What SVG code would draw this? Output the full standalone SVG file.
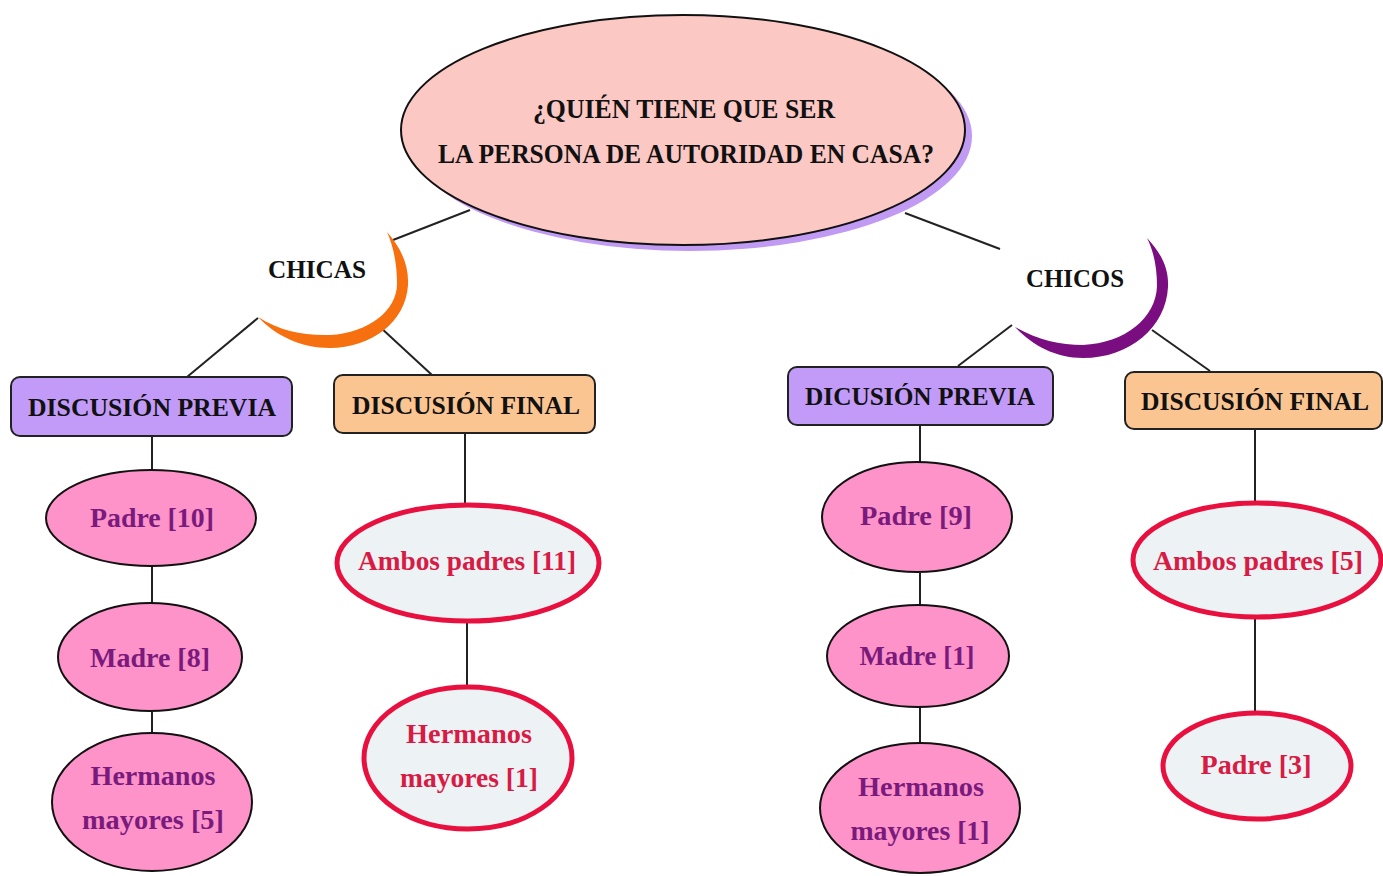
<svg xmlns="http://www.w3.org/2000/svg" width="1383" height="876" viewBox="0 0 1383 876">
<style>
text{font-family:"Liberation Serif","Times New Roman",serif;font-weight:bold;text-anchor:middle}
.t{fill:#111;font-size:27px}
.bx{fill:#111;font-size:25px}
.ch{fill:#111;font-size:25px}
.pk{fill:#fd93c9;stroke:#111;stroke-width:2}
.pt{fill:#7a1a7d;font-size:27px}
.rd{fill:#edf2f5;stroke:#e8103f;stroke-width:5}
.rt{fill:#d81b45;font-size:27px}
.pv{fill:#c29bf8;stroke:#222;stroke-width:2}
.pf{fill:#fbc592;stroke:#222;stroke-width:2}
.ln{stroke:#222;stroke-width:2;fill:none}
</style>
<rect width="1383" height="876" fill="#fff"/>
<g id="connectors">
<line class="ln" x1="393" y1="240" x2="470" y2="210"/>
<line class="ln" x1="905" y1="213" x2="1000" y2="249"/>
<line class="ln" x1="258" y1="318" x2="187" y2="377"/>
<line class="ln" x1="380" y1="327" x2="432" y2="375"/>
<line class="ln" x1="1012" y1="325" x2="958" y2="366"/>
<line class="ln" x1="1152" y1="330" x2="1210" y2="371"/>
<line class="ln" x1="152" y1="436" x2="152" y2="470"/>
<line class="ln" x1="152" y1="566" x2="152" y2="603"/>
<line class="ln" x1="152" y1="712" x2="152" y2="733"/>
<line class="ln" x1="465" y1="433" x2="465" y2="503"/>
<line class="ln" x1="467" y1="623" x2="467" y2="685"/>
<line class="ln" x1="920" y1="425" x2="920" y2="462"/>
<line class="ln" x1="920" y1="573" x2="920" y2="605"/>
<line class="ln" x1="920" y1="707" x2="920" y2="743"/>
<line class="ln" x1="1255" y1="430" x2="1255" y2="503"/>
<line class="ln" x1="1255" y1="618" x2="1255" y2="712"/>
</g>
<g id="root">
<ellipse cx="690" cy="136" rx="282" ry="115" fill="#c19af3"/>
<ellipse cx="683" cy="130" rx="282" ry="115" fill="#fcc8c4" stroke="#111" stroke-width="2"/>
<text class="t" x="684" y="118" textLength="302" lengthAdjust="spacingAndGlyphs">¿QUIÉN TIENE QUE SER</text>
<text class="t" x="686" y="163" textLength="496" lengthAdjust="spacingAndGlyphs">LA PERSONA DE AUTORIDAD EN CASA?</text>
</g>
<g id="chicas">
<path d="M387,232 C401,248 409,265 408,285 C406,322 371,348 330,348 C300,348 275,335 258,317 C280,331 305,336 330,335 C369,333 397,310 397,284 C397,265 394,248 387,232 Z" fill="#f7700f"/>
<text class="ch" x="317" y="278" textLength="98" lengthAdjust="spacingAndGlyphs">CHICAS</text>
</g>
<g id="chicos">
<path d="M1147,238 C1161,253 1169,268 1168,287 C1166,327 1130,358 1083,358 C1055,358 1032,345 1015,327 C1037,340 1060,345 1083,345 C1125,343 1156,318 1157,286 C1157,268 1154,252 1147,238 Z" fill="#7a0d7f"/>
<text class="ch" x="1075" y="287" textLength="98" lengthAdjust="spacingAndGlyphs">CHICOS</text>
</g>
<g id="chicas-previa">
<rect class="pv" x="11" y="377" width="281" height="59" rx="9"/>
<text class="bx" x="152" y="416" textLength="248" lengthAdjust="spacingAndGlyphs">DISCUSIÓN PREVIA</text>
</g>
<g id="chicas-final">
<rect class="pf" x="334" y="375" width="261" height="58" rx="9"/>
<text class="bx" x="466" y="414" textLength="228" lengthAdjust="spacingAndGlyphs">DISCUSIÓN FINAL</text>
</g>
<g id="chicos-previa">
<rect class="pv" x="788" y="367" width="265" height="58" rx="9"/>
<text class="bx" x="920" y="405" textLength="230" lengthAdjust="spacingAndGlyphs">DICUSIÓN PREVIA</text>
</g>
<g id="chicos-final">
<rect class="pf" x="1125" y="372" width="257" height="57" rx="9"/>
<text class="bx" x="1255" y="410" textLength="228" lengthAdjust="spacingAndGlyphs">DISCUSIÓN FINAL</text>
</g>
<g id="chicas-padre">
<ellipse class="pk" cx="151" cy="518" rx="105" ry="48"/>
<text class="pt" x="152" y="527" textLength="124" lengthAdjust="spacingAndGlyphs">Padre [10]</text>
</g>
<g id="chicas-madre">
<ellipse class="pk" cx="150" cy="657" rx="92" ry="54"/>
<text class="pt" x="150" y="667" textLength="120" lengthAdjust="spacingAndGlyphs">Madre [8]</text>
</g>
<g id="chicas-hermanos">
<ellipse class="pk" cx="152" cy="802" rx="100" ry="69"/>
<text class="pt" x="153" y="785" textLength="125" lengthAdjust="spacingAndGlyphs">Hermanos</text>
<text class="pt" x="153" y="829" textLength="142" lengthAdjust="spacingAndGlyphs">mayores [5]</text>
</g>
<g id="chicas-ambos">
<ellipse class="rd" cx="468" cy="563" rx="131" ry="58"/>
<text class="rt" x="467" y="570" textLength="218" lengthAdjust="spacingAndGlyphs">Ambos padres [11]</text>
</g>
<g id="chicas-final-hermanos">
<ellipse class="rd" cx="468" cy="758" rx="104" ry="71"/>
<text class="rt" x="469" y="743" textLength="126" lengthAdjust="spacingAndGlyphs">Hermanos</text>
<text class="rt" x="469" y="787" textLength="138" lengthAdjust="spacingAndGlyphs">mayores [1]</text>
</g>
<g id="chicos-padre">
<ellipse class="pk" cx="917" cy="517" rx="95" ry="55"/>
<text class="pt" x="916" y="525" textLength="112" lengthAdjust="spacingAndGlyphs">Padre [9]</text>
</g>
<g id="chicos-madre">
<ellipse class="pk" cx="918" cy="656" rx="91" ry="51"/>
<text class="pt" x="917" y="665" textLength="115" lengthAdjust="spacingAndGlyphs">Madre [1]</text>
</g>
<g id="chicos-hermanos">
<ellipse class="pk" cx="920" cy="808" rx="100" ry="65"/>
<text class="pt" x="921" y="796" textLength="126" lengthAdjust="spacingAndGlyphs">Hermanos</text>
<text class="pt" x="920" y="840" textLength="139" lengthAdjust="spacingAndGlyphs">mayores [1]</text>
</g>
<g id="chicos-ambos">
<ellipse class="rd" cx="1257" cy="560" rx="124" ry="57"/>
<text class="rt" x="1258" y="570" textLength="210" lengthAdjust="spacingAndGlyphs">Ambos padres [5]</text>
</g>
<g id="chicos-final-padre">
<ellipse class="rd" cx="1257" cy="766" rx="94" ry="53"/>
<text class="rt" x="1256" y="774" textLength="111" lengthAdjust="spacingAndGlyphs">Padre [3]</text>
</g>
</svg>
